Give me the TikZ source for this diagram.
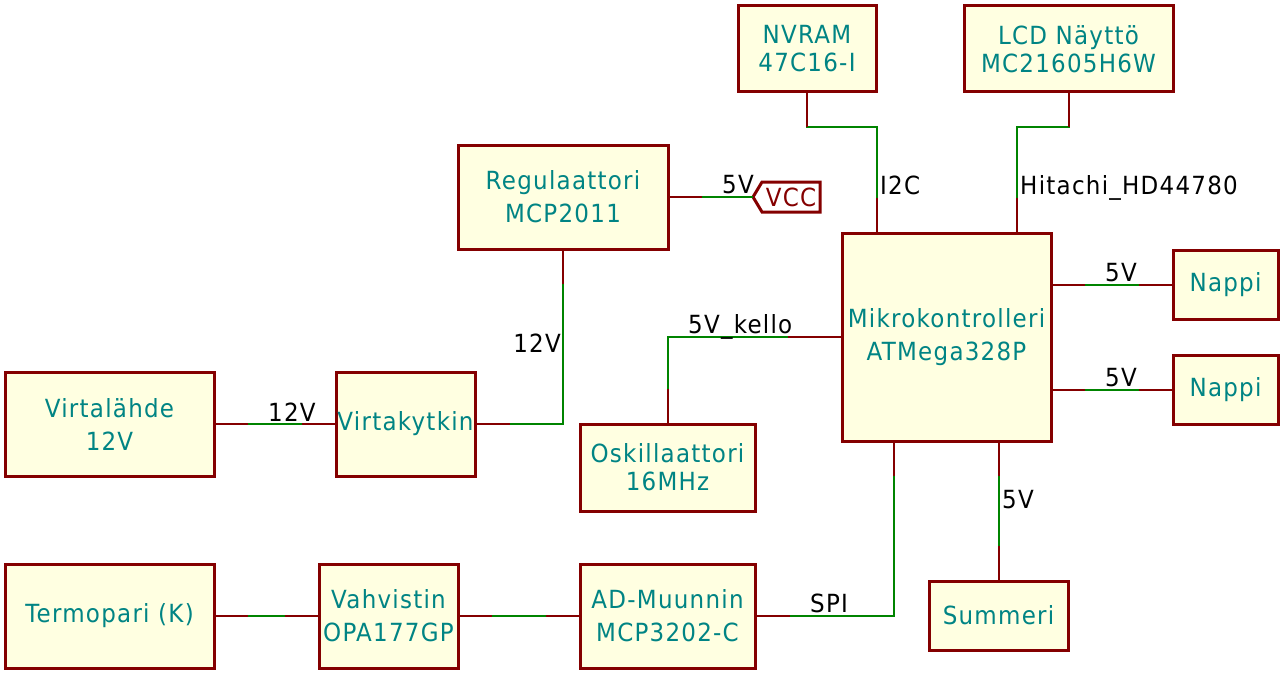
\documentclass[tikz,border=0pt]{standalone}
\usepackage{fontspec}
\setmainfont{DejaVu Sans}[LetterSpace=5, FakeStretch=0.92]
\definecolor{sheetred}{HTML}{840000}
\definecolor{sheetfill}{HTML}{FFFFE1}
\definecolor{sheettext}{HTML}{008484}
\definecolor{wiregreen}{HTML}{008400}
\tikzset{
  sheet/.style={draw=sheetred, fill=sheetfill, line width=3pt, text=sheettext,
    inner sep=0pt, outer sep=0pt, align=center, font=\fontsize{25}{33}\selectfont},
  tight/.style={font=\fontsize{25}{28}\selectfont},
  wire/.style={draw=wiregreen, line width=2pt},
  pin/.style={draw=sheetred, line width=2pt},
  vccbox/.style={draw=sheetred, line width=3pt, line join=miter},
  lbl/.style={inner sep=0pt, font=\fontsize{25}{27}\selectfont},
}
\begin{document}
\begin{tikzpicture}[x=1pt,y=-1pt]
\useasboundingbox (0,0) rectangle (1284,674);

    % sheets
    \node[sheet, minimum width=209pt, minimum height=104pt] (virta) at (109.5,424) {Virtalähde\\12V};
    \node[sheet, minimum width=139pt, minimum height=104pt] (kytkin) at (405.5,424) {Virtakytkin};
    \node[sheet, minimum width=210pt, minimum height=104pt] (reg) at (563,197) {Regulaattori\\MCP2011};
    \node[sheet, tight, minimum width=138pt, minimum height=86pt] (nvram) at (807,49) {NVRAM\\47C16-I};
    \node[sheet, tight, minimum width=209pt, minimum height=86pt] (lcd) at (1068.5,49) {LCD Näyttö\\MC21605H6W};
    \node[sheet, minimum width=209pt, minimum height=208pt] (mcu) at (946.5,337) {Mikrokontrolleri\\ATMega328P};
    \node[sheet, minimum width=105pt, minimum height=69pt] (nappiA) at (1225.5,284.5) {Nappi};
    \node[sheet, minimum width=105pt, minimum height=69pt] (nappiB) at (1225.5,389.5) {Nappi};
    \node[sheet, tight, minimum width=175pt, minimum height=87pt] (osc) at (667.5,467.5) {Oskillaattori\\16MHz};
    \node[sheet, minimum width=139pt, minimum height=69pt] (summeri) at (998.5,615.5) {Summeri};
    \node[sheet, minimum width=209pt, minimum height=104pt] (termo) at (109.5,616) {Termopari (K)};
    \node[sheet, minimum width=139pt, minimum height=104pt] (vahv) at (388.5,616) {Vahvistin\\OPA177GP};
    \node[sheet, minimum width=175pt, minimum height=104pt] (ad) at (667.5,616) {AD-Muunnin\\MCP3202-C};

    % power flag
    \draw[vccbox] (753,197) -- (762,182) -- (820,182) -- (820,212) -- (762,212) -- cycle;
    \node[lbl, text=sheetred] (vcc) at (791,197) {VCC};
    \coordinate (vccpin) at (753,197);

    % wires
    \draw[wire] (virta.east) -- (kytkin.west);
    \draw[wire] (kytkin.east) -| (reg.south);
    \draw[wire] (reg.east) -- (vccpin);
    \draw[wire] (nvram.south) -- ++(0,35) -| ([xshift=35pt]mcu.north west);
    \draw[wire] (lcd.south) -- ++(0,35) -| ([xshift=175pt]mcu.north west);
    \draw[wire] (mcu.east |- nappiA.west) -- (nappiA.west);
    \draw[wire] (mcu.east |- nappiB.west) -- (nappiB.west);
    \draw[wire] (osc.north) |- (mcu.west);
    \draw[wire] (summeri.north |- mcu.south) -- (summeri.north);
    \draw[wire] ([xshift=52pt]mcu.south west) |- (ad.east);
    \draw[wire] (termo.east) -- (vahv.west);
    \draw[wire] (vahv.east) -- (ad.west);

    % sheet pins
    \draw[pin] (virta.east) -- ++(34,0);
    \draw[pin] (kytkin.west) -- ++(-34,0);
    \draw[pin] (kytkin.east) -- ++(35,0);
    \draw[pin] (reg.south) -- ++(0,35);
    \draw[pin] (reg.east) -- ++(34,0);
    \draw[pin] (nvram.south) -- ++(0,35);
    \draw[pin] (lcd.south) -- ++(0,35);
    \draw[pin] ([xshift=35pt]mcu.north west) -- ++(0,-35);
    \draw[pin] ([xshift=175pt]mcu.north west) -- ++(0,-35);
    \draw[pin] (mcu.east |- nappiA.west) -- ++(34,0);
    \draw[pin] (nappiA.west) -- ++(-34,0);
    \draw[pin] (mcu.east |- nappiB.west) -- ++(34,0);
    \draw[pin] (nappiB.west) -- ++(-34,0);
    \draw[pin] (mcu.west) -- ++(-54,0);
    \draw[pin] (osc.north) -- ++(0,-35);
    \draw[pin] ([xshift=52pt]mcu.south west) -- ++(0,35);
    \draw[pin] (summeri.north |- mcu.south) -- ++(0,35);
    \draw[pin] (summeri.north) -- ++(0,-35);
    \draw[pin] (ad.east) -- ++(35,0);
    \draw[pin] (termo.east) -- ++(34,0);
    \draw[pin] (vahv.west) -- ++(-34,0);
    \draw[pin] (vahv.east) -- ++(34,0);
    \draw[pin] (ad.west) -- ++(-34,0);

    % net labels
    \node[lbl, anchor=base west] (l12a) at (268,421) {12V};
    \node[lbl, anchor=base east] (l12b) at (561,352) {12V};
    \node[lbl, anchor=base west] (l5vcc) at (722,193) {5V};
    \node[lbl, anchor=base west] (li2c) at (880,194) {I2C};
    \node[lbl, anchor=base west] (lhit) at (1020,194) {Hitachi\_HD44780};
    \node[lbl, anchor=base west] (l5a) at (1105,281) {5V};
    \node[lbl, anchor=base west] (l5b) at (1105,386) {5V};
    \node[lbl, anchor=base west] (lkello) at (688,333) {5V\_kello};
    \node[lbl, anchor=base west] (l5s) at (1002,508) {5V};
    \node[lbl, anchor=base west] (lspi) at (810,612) {SPI};

\end{tikzpicture}
\end{document}
